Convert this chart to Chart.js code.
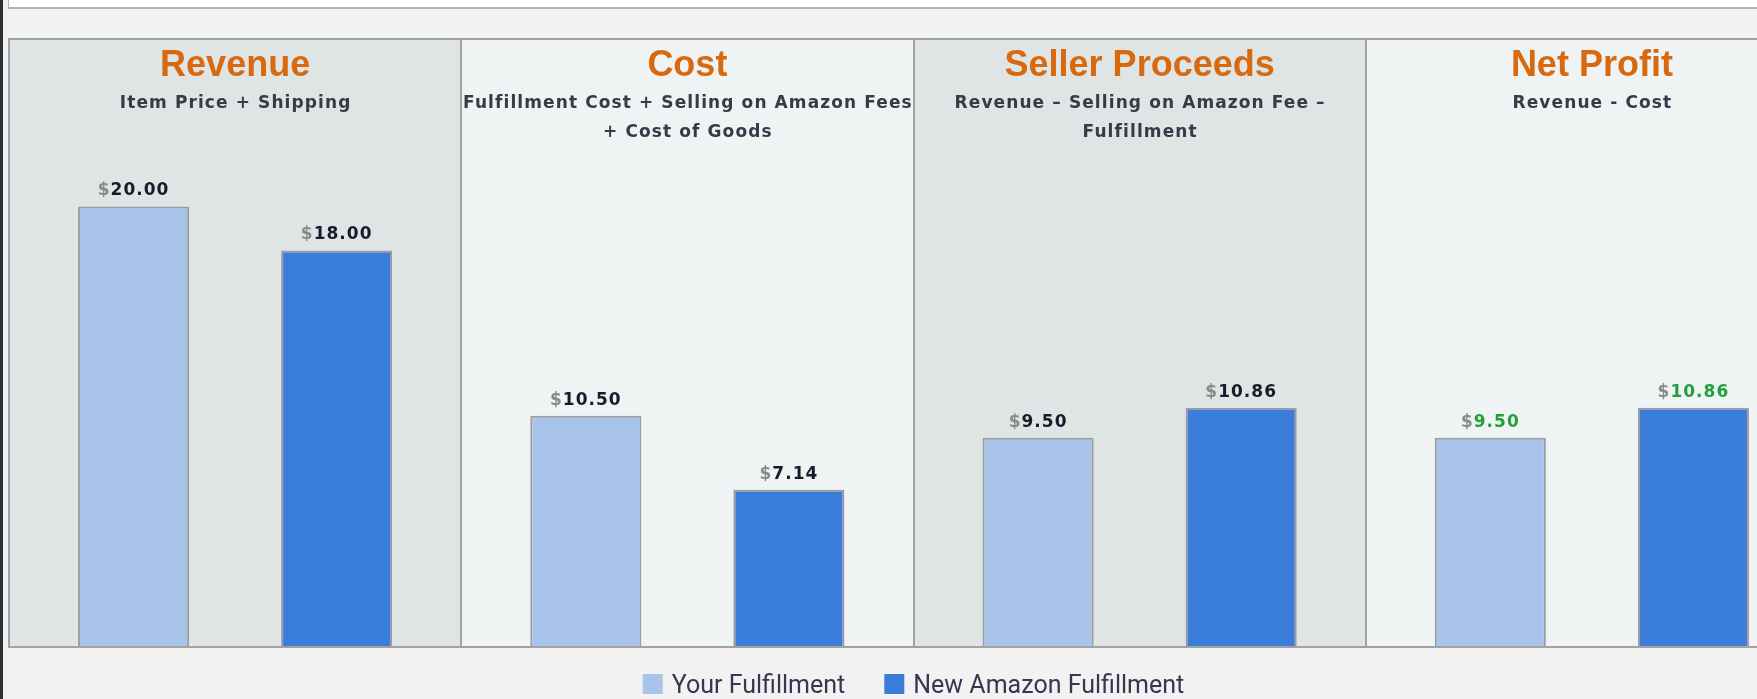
<!DOCTYPE html>
<html>
<head>
<meta charset="utf-8">
<script src="https://cdn.jsdelivr.net/npm/chart.js@4.4.0/dist/chart.umd.min.js"></script>
<style>
    html, body {
        margin: 0;
        padding: 0;
        width: 1757px;
        height: 699px;
        overflow: hidden;
        background: #f2f2f2;
    }
    #topBox {
        position: absolute;
        left: 8px;
        top: -10px;
        width: 1800px;
        height: 17px;
        background: #ffffff;
        border-left: 1px solid #b4b4b4;
        border-bottom: 2px solid #b4b4b4;
    }
    #edge {
        position: absolute;
        left: 0;
        top: 0;
        width: 3px;
        height: 699px;
        background: #2c3038;
    }
    #chartWrap {
        position: absolute;
        left: 0;
        top: 0;
    }
</style>
</head>
<body>
<div id="topBox"></div>
<div id="chartWrap"><canvas id="fulfillmentChart" width="1830" height="699"></canvas></div>
<div id="edge"></div>
<script>
const categories = ['Revenue', 'Cost', 'Seller Proceeds', 'Net Profit'];
const subtitles = [
    ['Item Price + Shipping'],
    ['Fulfillment Cost + Selling on Amazon Fees', '+ Cost of Goods'],
    ['Revenue \u2013 Selling on Amazon Fee \u2013', 'Fulfillment'],
    ['Revenue - Cost']
];
const yourFulfillment = [20.00, 10.50, 9.50, 9.50];
const amazonFulfillment = [18.00, 7.14, 10.86, 10.86];
const seriesNames = ['Your Fulfillment', 'New Amazon Fulfillment'];

const panelColors = ['#dfe4e4', '#eff3f4'];
const frameColor = '#a2a2a2';

// panel backgrounds behind the bars
const panelPlugin = {
    id: 'panels',
    beforeDatasetsDraw(chart) {
        const ctx = chart.ctx;
        const area = chart.chartArea;
        const x = chart.scales.x;
        const step = (area.right - area.left) / categories.length;
        ctx.save();
        categories.forEach((c, i) => {
            const cx = x.getPixelForValue(i);
            ctx.fillStyle = panelColors[i % 2];
            ctx.fillRect(cx - step / 2, area.top, step, area.bottom - area.top);
        });
        ctx.restore();
    },
    afterDatasetsDraw(chart) {
        const ctx = chart.ctx;
        const area = chart.chartArea;
        const x = chart.scales.x;
        const step = (area.right - area.left) / categories.length;
        ctx.save();
        ctx.strokeStyle = frameColor;
        ctx.lineWidth = 2;
        ctx.strokeRect(area.left, area.top, area.right - area.left, area.bottom - area.top);
        for (let i = 1; i < categories.length; i++) {
            const bx = Math.round(x.getPixelForValue(i) - step / 2);
            ctx.beginPath();
            ctx.moveTo(bx, area.top);
            ctx.lineTo(bx, area.bottom);
            ctx.stroke();
        }
        ctx.restore();
    }
};

// titles, subtitles, value labels, legend
const textPlugin = {
    id: 'texts',
    afterDraw(chart) {
        const ctx = chart.ctx;
        const x = chart.scales.x;
        ctx.save();
        ctx.textAlign = 'center';
        categories.forEach((c, i) => {
            const cx = x.getPixelForValue(i);
            ctx.letterSpacing = '0px';
            ctx.font = 'bold 36px "Liberation Sans", Arial, sans-serif';
            ctx.fillStyle = '#d8690f';
            ctx.fillText(c, cx, 76);
            ctx.font = 'bold 17px "DejaVu Sans", Verdana, sans-serif';
            ctx.letterSpacing = '1.1px';
            ctx.fillStyle = '#363b48';
            subtitles[i].forEach((line, j) => {
                ctx.fillText(line, cx + 0.5, 108 + j * 29);
            });
        });

        // value labels
        ctx.textAlign = 'left';
        ctx.font = 'bold 17px "DejaVu Sans", Verdana, sans-serif';
        ctx.letterSpacing = '1px';
        chart.data.datasets.forEach((ds, d) => {
            chart.getDatasetMeta(d).data.forEach((bar, i) => {
                const num = ds.data[i].toFixed(2);
                const w1 = ctx.measureText('$').width;
                const w2 = ctx.measureText(num).width;
                const sx = bar.x - (w1 + w2) / 2;
                const by = bar.y - 11;
                ctx.fillStyle = '#8a8a8a';
                ctx.fillText('$', sx, by);
                ctx.fillStyle = i === 3 ? '#22a03a' : '#1a1a2c';
                ctx.fillText(num, sx + w1, by);
            });
        });

        // legend
        const area = chart.chartArea;
        ctx.letterSpacing = '0px';
        ctx.font = '25px Roboto, "DejaVu Sans", sans-serif';
        const box = 20, gapText = 9, gapItem = 39;
        const widths = seriesNames.map(n => ctx.measureText(n).width);
        let total = 0;
        widths.forEach((w, k) => { total += box + gapText + w + (k ? gapItem : 0); });
        let lx = (area.left + area.right) / 2 - total / 2;
        seriesNames.forEach((n, k) => {
            ctx.fillStyle = chart.data.datasets[k].backgroundColor;
            ctx.fillRect(lx, 674, box, box);
            ctx.fillStyle = '#3a3550';
            ctx.fillText(n, lx + box + gapText, 693);
            lx += box + gapText + widths[k] + gapItem;
        });
        ctx.restore();
    }
};

const ctx = document.getElementById('fulfillmentChart').getContext('2d');
new Chart(ctx, {
    type: 'bar',
    data: {
        labels: categories,
        datasets: [
            {
                label: seriesNames[0],
                data: yourFulfillment,
                backgroundColor: '#a9c4ea',
                borderColor: '#9c9c9c',
                borderWidth: 2,
                borderSkipped: 'start'
            },
            {
                label: seriesNames[1],
                data: amazonFulfillment,
                backgroundColor: '#3b7ddb',
                borderColor: '#9c9c9c',
                borderWidth: 2,
                borderSkipped: 'start'
            }
        ]
    },
    options: {
        responsive: false,
        animation: false,
        layout: {
            padding: { left: 9, top: 39, right: 12, bottom: 52 }
        },
        categoryPercentage: 0.898,
        barPercentage: 0.547,
        scales: {
            x: { display: false },
            y: { display: false, min: 0, max: 27.6 }
        },
        plugins: {
            legend: { display: false },
            tooltip: { enabled: false }
        }
    },
    plugins: [panelPlugin, textPlugin]
});
</script>
</body>
</html>
